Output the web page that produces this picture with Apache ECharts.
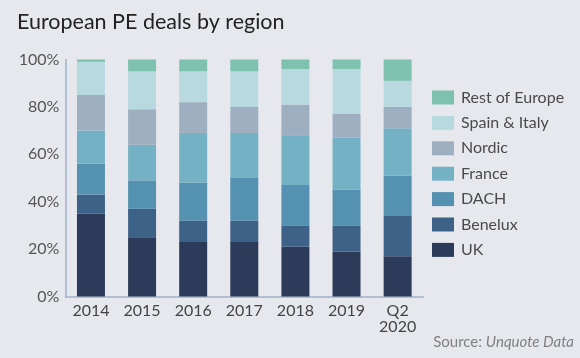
<!DOCTYPE html>
<html><head><meta charset="utf-8">
<script src="https://cdn.jsdelivr.net/npm/echarts@6/dist/echarts.min.js"></script>
<style>html,body{margin:0;padding:0;background:#e7e8ee;}#c{width:580px;height:358px;}</style>
</head><body><div id="c"></div>
<script>
var categories = ['2014','2015','2016','2017','2018','2019','Q2\n2020'];
var yTicks = [0,20,40,60,80,100];
var uk          = [35,25,23,23,21,19,17];
var benelux     = [8,12,9,9,9,11,17];
var dach        = [13,12,16,18,17,15,17];
var france      = [14,15,21,19,21,22,20];
var nordic      = [15,15,13,11,13,10,9];
var spainItaly  = [14,16,13,15,15,19,11];
var restEurope  = [1,5,5,5,4,4,9];
var seriesNames = ['UK','Benelux','DACH','France','Nordic','Spain & Italy','Rest of Europe'];
var seriesData = [uk,benelux,dach,france,nordic,spainItaly,restEurope];
var colors = ['#2c3b59','#3e6287','#5591b1','#75b1c5','#9eafc1','#b9d9e1','#7dc1ae'];

var chart = echarts.init(document.getElementById('c'));
var FONT = 'Lato';
chart.setOption({
  backgroundColor:'#e7e8ee',
  animation:false,
  textStyle:{fontFamily:FONT},
  title:{text:'European PE deals by region',left:12,top:6,
    textStyle:{fontFamily:FONT,fontSize:21.5,fontWeight:'normal',color:'#222'}},
  legend:{
    data:seriesNames.slice().reverse(),
    orient:'vertical',left:432,top:89.5,padding:0,
    itemWidth:22,itemHeight:14,itemGap:9.4,
    icon:'rect',
    textStyle:{fontFamily:FONT,fontSize:16,color:'#4a4a4a',padding:[0,0,0,2]},
    selectedMode:false
  },
  grid:{left:65.4,right:156.8,top:59.5,bottom:61.5,containLabel:false},
  xAxis:{type:'category',data:categories,
    axisLine:{lineStyle:{color:'#9fb3c6',width:1.5}},
    axisTick:{show:false},
    axisLabel:{fontFamily:FONT,fontSize:16,color:'#444',margin:6,lineHeight:16}
  },
  yAxis:{type:'value',min:0,max:100,interval:20,
    axisLine:{show:true,lineStyle:{color:'#9fb3c6',width:1.5}},
    axisTick:{show:false},splitLine:{show:false},
    axisLabel:{fontFamily:FONT,fontSize:16,color:'#555',margin:6,
      formatter:function(v){return yTicks.indexOf(v)>=0? v+'%':'';}}
  },
  series:seriesData.map(function(d,i){
    return {name:seriesNames[i],type:'bar',stack:'all',data:d,barWidth:28,
      itemStyle:{color:colors[i]}};
  }),
  graphic:[{type:'text',right:6,top:335,
    style:{text:'{a|Source: }{b|Unquote Data}',
      rich:{a:{fontFamily:FONT,fontSize:15,fill:'#808080'},
            b:{fontFamily:FONT,fontSize:15,fill:'#808080',fontStyle:'italic'}}}}]
});
</script></body></html>
